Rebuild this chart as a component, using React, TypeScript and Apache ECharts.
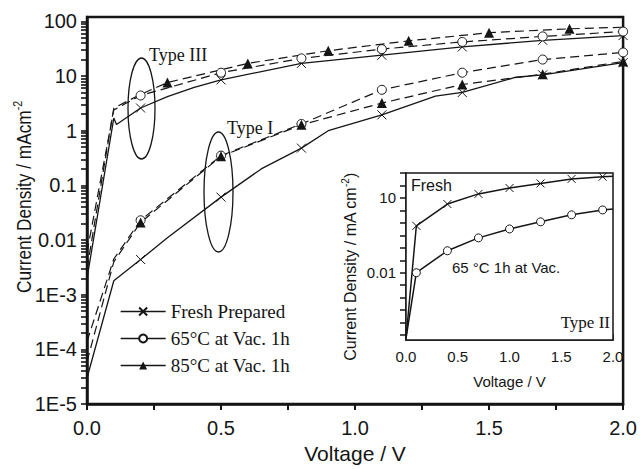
import React, { useEffect, useRef } from "react";
import * as echarts from "echarts";

// ---------- Main chart data (Voltage / V , Current density / mA cm^-2) ----------
const freshIII_V = [0, 0.1, 0.11, 0.2, 0.3, 0.4, 0.5, 0.8, 1.1, 1.4, 1.7, 2.0];
const freshIII_J = [2e-3, 1.7, 1.3, 2.6, 4.2, 6.2, 8.5, 17, 24, 34, 45, 55];
const freshIII_marks = [0.2, 0.5, 0.8, 1.1, 1.4, 1.7, 2.0];

const freshI_V = [0, 0.1, 0.2, 0.3, 0.5, 0.65, 0.8, 0.9, 1.1, 1.3, 1.4, 1.6, 1.7, 2.0];
const freshI_J = [3e-5, 1.8e-3, 4.4e-3, 0.011, 0.061, 0.2, 0.48, 1.0, 1.95, 4.3, 5.0, 9.5, 10.5, 17.5];
const freshI_marks = [0.2, 0.5, 0.8, 1.1, 1.4, 1.7, 2.0];

const c65III_V = [0, 0.1, 0.2, 0.5, 0.8, 1.1, 1.4, 1.7, 2.0];
const c65III_J = [6e-3, 2.4, 4.4, 11.5, 21, 31, 42, 53, 65];
const c65III_marks = [0.2, 0.5, 0.8, 1.1, 1.4, 1.7, 2.0];

const c65I_V = [0, 0.1, 0.2, 0.5, 0.8, 1.1, 1.4, 1.7, 2.0];
const c65I_J = [1.4e-4, 4.5e-3, 0.023, 0.35, 1.33, 5.6, 11.5, 20, 27];
const c65I_marks = [0.2, 0.5, 0.8, 1.1, 1.4, 1.7, 2.0];

const c85III_V = [0, 0.1, 0.2, 0.3, 0.6, 0.9, 1.2, 1.5, 1.8, 2.0];
const c85III_J = [3e-3, 2.6, 4.6, 7.6, 17, 29, 44, 62, 73, 78];
const c85III_marks = [0.3, 0.6, 0.9, 1.2, 1.5, 1.8];

const c85I_V = [0, 0.1, 0.2, 0.5, 0.8, 1.1, 1.4, 1.7, 2.0];
const c85I_J = [6e-5, 4e-3, 0.021, 0.34, 1.28, 3.2, 7.0, 10.8, 18.5];
const c85I_marks = [0.2, 0.5, 0.8, 1.1, 1.4, 1.7, 2.0];

const legendNames = ["Fresh Prepared", "65°C at Vac. 1h", "85°C at Vac. 1h"];

const mainYMin = 1e-5;
const mainYMax = 120;
const mainYTickValues = [1e-5, 1e-4, 1e-3, 0.01, 0.1, 1, 10, 100];
const mainYTickLabels = ["1E-5", "1E-4", "1E-3", "0.01", "0.1", "1", "10", "100"];
const minorMultipliers = [2, 3, 4, 5, 6, 7, 8, 9];

// ---------- Inset data (Type II) ----------
const insetFresh_V = [0, 0.1, 0.4, 0.7, 1.0, 1.3, 1.6, 1.9, 2.0];
const insetFresh_J = [2.3e-5, 0.76, 5.7, 14.5, 25, 38, 58, 71, 74];
const insetHeated_V = [0, 0.1, 0.4, 0.7, 1.0, 1.3, 1.6, 1.9, 2.0];
const insetHeated_J = [2.3e-5, 0.01, 0.076, 0.25, 0.57, 1.1, 2.1, 3.3, 3.6];
const inset_marks = [0.1, 0.4, 0.7, 1.0, 1.3, 1.6, 1.9];

const insetYMin = 2e-5;
const insetYMax = 100;
const insetYTickValues = [10, 0.01];
const insetYTickLabels = ["10", "0.01"];
const insetDecades = [1e-4, 1e-3, 0.01, 0.1, 1, 10, 100];

const X_SYMBOL = "path://M0,0L10,10M0,10L10,0";
const INK = "#151515";
const SANS = "Liberation Sans, Arial, sans-serif";
const SERIF = "Liberation Serif, Times New Roman, serif";

function buildData(V: number[], J: number[], marks: number[]) {
  return V.map((v, i) =>
    marks.some((m) => Math.abs(m - v) < 1e-9)
      ? { value: [v, J[i]] }
      : { value: [v, J[i]], symbol: "none" }
  );
}

function labelFor(values: number[], labels: string[]) {
  return (v: number) => {
    for (let i = 0; i < values.length; i++) {
      if (Math.abs(Math.log10(v) - Math.log10(values[i])) < 1e-6) return labels[i];
    }
    return "";
  };
}

// tick positions on the log axes (decades + log-spaced minors)
const mainTicks: number[] = [];
mainYTickValues.forEach((d, i) => {
  mainTicks.push(d);
  if (i < mainYTickValues.length - 1) minorMultipliers.forEach((k) => mainTicks.push(k * d));
});
const insetTicks: number[] = [3.16e-5];
insetDecades.forEach((d, i) => {
  insetTicks.push(d);
  if (i < insetDecades.length - 1) insetTicks.push(d * Math.sqrt(10));
});

const lineBase = (width: number, dashed: boolean) => ({
  color: INK,
  width,
  type: dashed ? [9, 5] : "solid",
});

const freshStyle = {
  symbol: X_SYMBOL,
  symbolSize: 9,
  itemStyle: { color: "rgba(0,0,0,0)", borderColor: INK, borderWidth: 1 },
};
const circleStyle = {
  symbol: "circle",
  symbolSize: 9,
  itemStyle: { color: "#fff", borderColor: INK, borderWidth: 1 },
};
const triStyle = {
  symbol: "triangle",
  symbolSize: 10,
  itemStyle: { color: INK, borderColor: INK, borderWidth: 0 },
};

export default function App() {
  const ref = useRef<HTMLDivElement>(null);
  useEffect(() => {
    if (!ref.current) return;
    const chart = echarts.init(ref.current, undefined, { renderer: "svg" });

    const mainSeries = [
      { name: legendNames[0], V: freshIII_V, J: freshIII_J, m: freshIII_marks, st: freshStyle, dashed: false },
      { name: legendNames[0], V: freshI_V, J: freshI_J, m: freshI_marks, st: freshStyle, dashed: false },
      { name: legendNames[1], V: c65III_V, J: c65III_J, m: c65III_marks, st: circleStyle, dashed: true },
      { name: legendNames[1], V: c65I_V, J: c65I_J, m: c65I_marks, st: circleStyle, dashed: true },
      { name: legendNames[2], V: c85III_V, J: c85III_J, m: c85III_marks, st: triStyle, dashed: true },
      { name: legendNames[2], V: c85I_V, J: c85I_J, m: c85I_marks, st: triStyle, dashed: true },
    ].map((s) => ({
      type: "line",
      name: s.name,
      xAxisIndex: 0,
      yAxisIndex: 0,
      data: buildData(s.V, s.J, s.m),
      showAllSymbol: true,
      ...s.st,
      lineStyle: lineBase(s.dashed ? 1.2 : 1.3, s.dashed),
      emphasis: { disabled: true },
      z: 3,
    }));

    const insetSeries = [
      { name: "Fresh", V: insetFresh_V, J: insetFresh_J, st: freshStyle },
      { name: "65 °C 1h at Vac.", V: insetHeated_V, J: insetHeated_J, st: circleStyle },
    ].map((s) => ({
      type: "line",
      name: s.name,
      xAxisIndex: 1,
      yAxisIndex: 1,
      data: buildData(s.V, s.J, inset_marks),
      showAllSymbol: true,
      ...s.st,
      symbolSize: 8,
      lineStyle: lineBase(1.5, false),
      emphasis: { disabled: true },
      z: 5,
    }));

    const option: any = {
      animation: false,
      backgroundColor: "#fff",
      textStyle: { fontFamily: SANS, color: INK },
      grid: [
        {
          left: 87,
          top: 17,
          width: 537,
          height: 396,
          show: true,
          borderColor: INK,
          borderWidth: 2.5,
          backgroundColor: "transparent",
        },
        {
          left: 406,
          top: 173,
          width: 207,
          height: 167,
          show: true,
          borderColor: INK,
          borderWidth: 1.5,
          backgroundColor: "#fff",
          z: 4,
        },
      ],
      xAxis: [
        {
          gridIndex: 0,
          type: "value",
          min: 0,
          max: 2,
          interval: 0.5,
          axisLine: { show: true, onZero: false, lineStyle: { color: INK, width: 2.5 } },
          axisTick: { show: true, length: 6, lineStyle: { color: INK, width: 2 } },
          minorTick: { show: true, splitNumber: 2, length: 6, lineStyle: { color: INK, width: 2 } },
          splitLine: { show: false },
          axisLabel: {
            formatter: (v: number) => v.toFixed(1),
            fontSize: 20,
            color: INK,
            margin: 14,
            fontFamily: SANS,
          },
          name: "Voltage / V",
          nameLocation: "middle",
          nameGap: 33,
          nameTextStyle: { fontSize: 21, color: INK, fontFamily: SANS },
        },
        {
          gridIndex: 1,
          type: "value",
          min: 0,
          max: 2,
          interval: 0.5,
          axisLine: { show: true, onZero: false, lineStyle: { color: INK, width: 1.5 } },
          axisTick: { show: true, inside: true, length: 6, lineStyle: { color: INK, width: 1.5 } },
          minorTick: { show: true, splitNumber: 2, length: 6, lineStyle: { color: INK, width: 1.5 } },
          splitLine: { show: false },
          axisLabel: {
            formatter: (v: number) => v.toFixed(1),
            fontSize: 15,
            color: INK,
            margin: 9,
            fontFamily: SANS,
          },
          name: "Voltage / V",
          nameLocation: "middle",
          nameGap: 34,
          nameTextStyle: { fontSize: 15, color: INK, fontFamily: SANS },
        },
      ],
      yAxis: [
        {
          gridIndex: 0,
          type: "log",
          logBase: 10,
          min: mainYMin,
          max: mainYMax,
          axisLine: { show: true, lineStyle: { color: INK, width: 2.5 } },
          axisTick: { show: true, length: 6, customValues: mainTicks, lineStyle: { color: INK, width: 1.6 } },
          splitLine: { show: false },
          axisLabel: {
            formatter: labelFor(mainYTickValues, mainYTickLabels),
            fontSize: 20,
            color: INK,
            margin: 10,
            fontFamily: SANS,
            showMaxLabel: false,
          },
        },
        {
          gridIndex: 1,
          type: "log",
          logBase: 10,
          min: insetYMin,
          max: insetYMax,
          axisLine: { show: true, lineStyle: { color: INK, width: 1.5 } },
          axisTick: { show: true, length: 6, customValues: insetTicks, lineStyle: { color: INK, width: 1.5 } },
          splitLine: { show: false },
          axisLabel: {
            formatter: labelFor(insetYTickValues, insetYTickLabels),
            fontSize: 15,
            color: INK,
            margin: 10,
            fontFamily: SANS,
          },
        },
      ],
      legend: {
        data: legendNames,
        orient: "vertical",
        left: 115,
        top: 297,
        itemWidth: 45,
        itemHeight: 10,
        itemGap: 8,
        selectedMode: false,
        lineStyle: { type: "solid", width: 1.3, color: INK },
        textStyle: { fontFamily: SERIF, fontSize: 19, color: INK },
      },
      graphic: [
        {
          type: "text",
          x: 24,
          y: 197,
          rotation: Math.PI / 2,
          scaleX: 0.82,
          style: {
            text: "Current Density / mAcm{sup|-2}",
            align: "center",
            verticalAlign: "middle",
            fontSize: 21,
            fontFamily: SANS,
            fill: INK,
            lineHeight: 26,
            rich: { sup: { fontSize: 13, verticalAlign: "top", lineHeight: 14, fontFamily: SANS, fill: INK } },
          },
        },
        {
          type: "text",
          x: 350,
          y: 267,
          rotation: Math.PI / 2,
          style: {
            text: "Current Density / mA cm{sup|-2}{n|)}",
            align: "center",
            verticalAlign: "middle",
            fontSize: 16,
            fontFamily: SANS,
            fill: INK,
            lineHeight: 20,
            rich: {
              sup: { fontSize: 10, verticalAlign: "top", lineHeight: 10, fontFamily: SANS, fill: INK },
              n: { fontSize: 16, fontFamily: SANS, fill: INK },
            },
          },
        },
        {
          type: "ellipse",
          shape: { cx: 141.5, cy: 108.5, rx: 13.5, ry: 50.5 },
          style: { fill: "none", stroke: INK, lineWidth: 1.3 },
          z: 10,
        },
        {
          type: "ellipse",
          shape: { cx: 218.5, cy: 192, rx: 14.5, ry: 60 },
          style: { fill: "none", stroke: INK, lineWidth: 1.3 },
          z: 10,
        },
        {
          type: "text",
          x: 149,
          y: 55,
          style: { text: "Type III", fontFamily: SERIF, fontSize: 18, fill: INK, verticalAlign: "middle" },
          z: 10,
        },
        {
          type: "text",
          x: 227,
          y: 128,
          style: { text: "Type I", fontFamily: SERIF, fontSize: 18, fill: INK, verticalAlign: "middle" },
          z: 10,
        },
        {
          type: "text",
          x: 411,
          y: 185,
          style: { text: "Fresh", fontFamily: SANS, fontSize: 16, fill: INK, verticalAlign: "middle" },
          z: 20,
        },
        {
          type: "text",
          x: 452,
          y: 267,
          style: { text: "65 °C 1h at Vac.", fontFamily: SANS, fontSize: 15, fill: INK, verticalAlign: "middle" },
          z: 20,
        },
        {
          type: "text",
          x: 610,
          y: 322,
          style: {
            text: "Type II",
            fontFamily: SERIF,
            fontSize: 17,
            fill: INK,
            align: "right",
            verticalAlign: "middle",
          },
          z: 20,
        },
      ],
      series: [...mainSeries, ...insetSeries],
    };

    chart.setOption(option);
    return () => chart.dispose();
  }, []);

  return <div ref={ref} style={{ width: 640, height: 469, position: "absolute", left: 0, top: 0 }} />;
}
